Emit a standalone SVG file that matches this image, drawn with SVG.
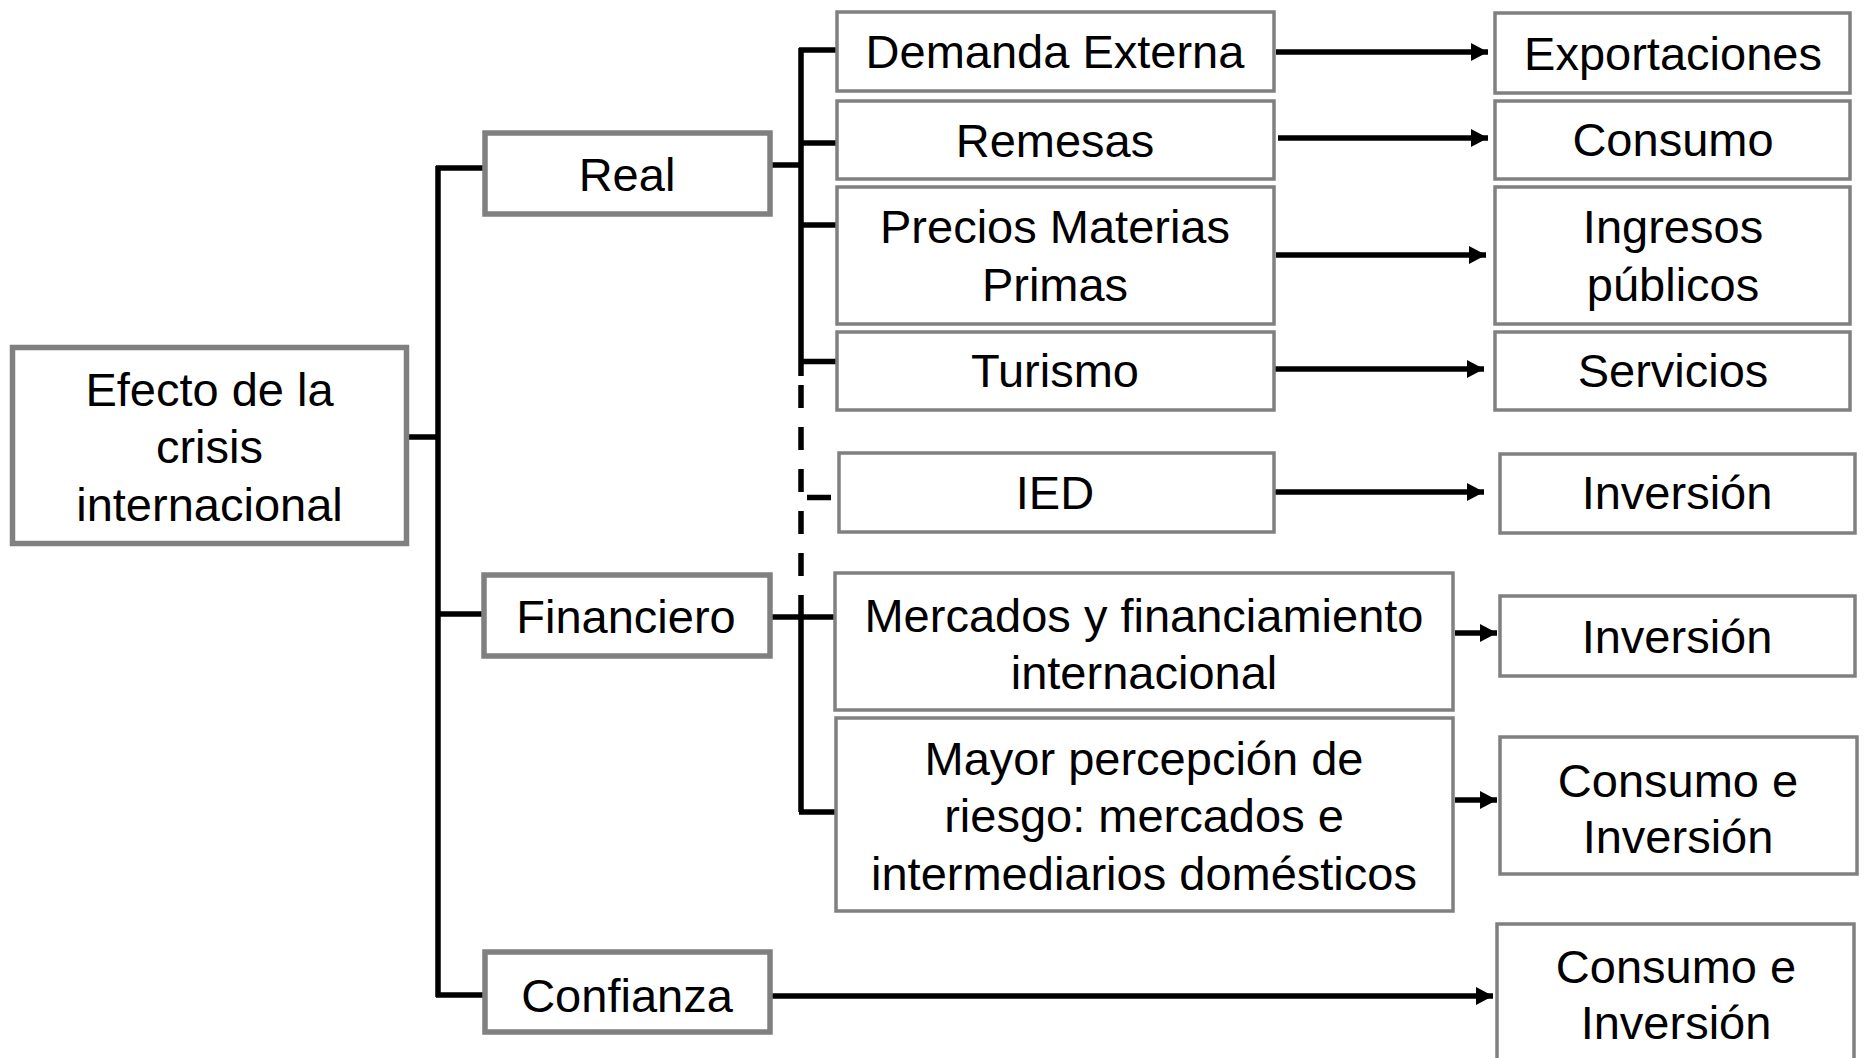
<svg xmlns="http://www.w3.org/2000/svg" width="1866" height="1058" viewBox="0 0 1866 1058">
<defs>
<style>
.b{fill:#fff;stroke:#808080;stroke-width:3.5}
.bt{fill:#fff;stroke:#808080;stroke-width:5.5}
text{font-family:"Liberation Sans",Arial,sans-serif;font-size:47px;fill:#000;text-anchor:middle}
.c{stroke:#000;stroke-width:5.5;fill:none}
.a{stroke:#000;stroke-width:5.5;fill:none;marker-end:url(#ah)}
</style>
<marker id="ah" markerUnits="userSpaceOnUse" markerWidth="18" markerHeight="18" refX="17" refY="9" orient="auto">
<path d="M0,0 L17,9 L0,18 z" fill="#000"/>
</marker>
</defs>
<rect width="1866" height="1058" fill="#fff"/>
<g id="connectors">
<path class="c" d="M409,437 H438 M438,166 V997 M436,168 H484 M438,614 H483 M436,995 H484"/>
<path class="c" d="M772,165 H801 M801,48 V376 M799,50 H836 M801,143 H836 M801,225 H836 M801,361.5 H836 M807,497.5 H831 M770,617 H835 M801,595 V812 M799,812 H836"/>
<path class="c" d="M801,385 V595" stroke-dasharray="23 19"/>
<path class="a" d="M1276,52 H1488"/>
<path class="a" d="M1278,138 H1488"/>
<path class="a" d="M1276,255 H1486"/>
<path class="a" d="M1274,369 H1484"/>
<path class="a" d="M1274,492 H1484"/>
<path class="a" d="M1455,633 H1497"/>
<path class="a" d="M1455,800 H1497"/>
<path class="a" d="M772,996 H1493"/>
</g>
<g id="n-efecto"><rect class="bt" x="12.5" y="347.5" width="394" height="196"/><text x="209.5" y="406">Efecto de la</text><text x="209.5" y="463">crisis</text><text x="209.5" y="521">internacional</text></g>
<g id="n-real"><rect class="bt" x="485" y="133" width="285" height="81"/><text x="627" y="191">Real</text></g>
<g id="n-financiero"><rect class="bt" x="484" y="575" width="286" height="81"/><text x="626" y="633">Financiero</text></g>
<g id="n-confianza"><rect class="bt" x="485" y="952" width="285" height="80"/><text x="627" y="1012">Confianza</text></g>
<g id="n-demanda"><rect class="b" x="837" y="12" width="437" height="79"/><text x="1055" y="68">Demanda Externa</text></g>
<g id="n-remesas"><rect class="b" x="837" y="101" width="437" height="78"/><text x="1055" y="157">Remesas</text></g>
<g id="n-precios"><rect class="b" x="837" y="187" width="437" height="137"/><text x="1055" y="243">Precios Materias</text><text x="1055" y="301">Primas</text></g>
<g id="n-turismo"><rect class="b" x="837" y="332" width="437" height="78"/><text x="1055" y="387">Turismo</text></g>
<g id="n-ied"><rect class="b" x="839" y="453" width="435" height="79"/><text x="1055" y="509">IED</text></g>
<g id="n-mercados"><rect class="b" x="835" y="573" width="618" height="137"/><text x="1144" y="632">Mercados y financiamiento</text><text x="1144" y="689">internacional</text></g>
<g id="n-mayor"><rect class="b" x="836" y="718" width="617" height="193"/><text x="1144" y="775">Mayor percepción de</text><text x="1144" y="832">riesgo: mercados e</text><text x="1144" y="890">intermediarios domésticos</text></g>
<g id="n-exportaciones"><rect class="b" x="1495" y="13" width="355" height="80"/><text x="1673" y="70">Exportaciones</text></g>
<g id="n-consumo"><rect class="b" x="1495" y="101" width="355" height="78"/><text x="1673" y="156">Consumo</text></g>
<g id="n-ingresos"><rect class="b" x="1495" y="187" width="355" height="137"/><text x="1673" y="243">Ingresos</text><text x="1673" y="301">públicos</text></g>
<g id="n-servicios"><rect class="b" x="1495" y="332" width="355" height="78"/><text x="1673" y="387">Servicios</text></g>
<g id="n-inversion1"><rect class="b" x="1500" y="454" width="355" height="79"/><text x="1677" y="509">Inversión</text></g>
<g id="n-inversion2"><rect class="b" x="1500" y="596" width="355" height="80"/><text x="1677" y="653">Inversión</text></g>
<g id="n-consinv1"><rect class="b" x="1500" y="737" width="357" height="137"/><text x="1678" y="797">Consumo e</text><text x="1678" y="853">Inversión</text></g>
<g id="n-consinv2"><rect class="b" x="1497" y="924" width="357" height="150"/><text x="1676" y="983">Consumo e</text><text x="1676" y="1039">Inversión</text></g>
</svg>
